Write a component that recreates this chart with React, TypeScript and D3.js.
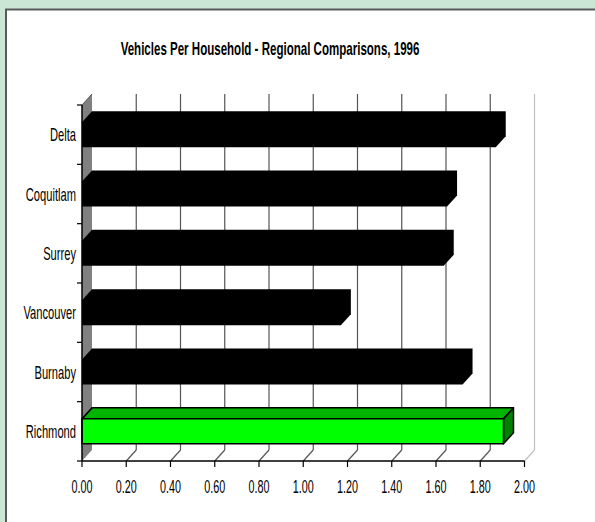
import React from "react";
import * as d3 from "d3";

const categories = ["Delta", "Coquitlam", "Surrey", "Vancouver", "Burnaby", "Richmond"];
const values = [1.87, 1.65, 1.635, 1.17, 1.72, 1.905];
const highlighted = ["Richmond"];
const xTicks = [0, 0.2, 0.4, 0.6, 0.8, 1.0, 1.2, 1.4, 1.6, 1.8, 2.0];
const title = "Vehicles Per Household - Regional Comparisons, 1996";

const W = 595;
const H = 522;
const DX = 10;
const DY = -11;
const FONT = "'Liberation Sans', Arial, sans-serif";

export default function App() {
  const x = d3.scaleLinear().domain([0, 2]).range([82, 524.5]);
  const y = d3
    .scaleBand<string>()
    .domain(categories)
    .range([105, 461])
    .paddingInner(0.58)
    .paddingOuter(0.29);
  const step = y.step();
  const top = 105;
  const bottom = 461;
  const x0 = x(0);
  const xMax = x(2);

  const bars = categories.map((c, i) => {
    const v = values[i];
    const xf = x(v);
    const yt = y(c)!;
    const yb = yt + y.bandwidth();
    return { c, v, xf, yt, yb, hi: highlighted.includes(c) };
  });

  return (
    <div style={{ position: "absolute", left: 0, top: 0 }}>
      <svg width={W} height={H} style={{ display: "block" }}>
        <rect x={0} y={0} width={W} height={H} fill="#cce6d5" />
        <rect x={6} y={9.5} width={W + 20} height={H + 20} fill="#ffffff" stroke="#5a5a5a" strokeWidth={2} />

        <g transform={`translate(270,55) scale(0.66,1.05)`}>
          <text textAnchor="middle" fontFamily={FONT} fontWeight="bold" fontSize={17.5} fill="#000">
            {title}
          </text>
        </g>

        {/* left wall */}
        <polygon
          points={`${x0},${top} ${x0 + DX},${top + DY} ${x0 + DX},${bottom + DY} ${x0},${bottom}`}
          fill="#808080"
        />

        {/* gridlines on back wall and floor */}
        {xTicks.slice(1).map((t, i) => {
          const last = t === 2;
          const col = last ? "#c0c0c0" : "#555555";
          const xb = x(t) + DX;
          return (
            <g key={i}>
              <line x1={xb} x2={xb} y1={top + DY} y2={bottom + DY} stroke={col} strokeWidth={1.2} />
              <line x1={xb} x2={x(t)} y1={bottom + DY} y2={bottom} stroke={col} strokeWidth={1.2} />
            </g>
          );
        })}

        {/* bars */}
        {bars.map((b) =>
          b.hi ? (
            <g key={b.c} stroke="#000" strokeWidth={1.5} strokeLinejoin="round">
              <polygon
                points={`${x0},${b.yt} ${x0 + DX},${b.yt + DY} ${b.xf + DX},${b.yt + DY} ${b.xf},${b.yt}`}
                fill="#00b400"
              />
              <polygon
                points={`${b.xf},${b.yt} ${b.xf + DX},${b.yt + DY} ${b.xf + DX},${b.yb + DY} ${b.xf},${b.yb}`}
                fill="#008200"
              />
              <rect x={x0} y={b.yt} width={b.xf - x0} height={b.yb - b.yt} fill="#00ff00" />
            </g>
          ) : (
            <polygon
              key={b.c}
              points={`${x0},${b.yt} ${x0 + DX},${b.yt + DY} ${b.xf + DX},${b.yt + DY} ${b.xf + DX},${b.yb + DY} ${b.xf},${b.yb} ${x0},${b.yb}`}
              fill="#000"
            />
          )
        )}

        {/* left axis */}
        <line x1={x0} x2={x0} y1={top} y2={bottom} stroke="#000" strokeWidth={1.5} />
        <line x1={x0} x2={x0 + DX} y1={top} y2={top + DY} stroke="#555" strokeWidth={1} />
        {d3.range(categories.length + 1).map((i) => (
          <line key={i} x1={x0 - 5} x2={x0} y1={top + i * step} y2={top + i * step} stroke="#000" strokeWidth={1.2} />
        ))}
        {categories.map((c) => (
          <g key={c} transform={`translate(76,${y(c)! + y.bandwidth() / 2 + 6.5}) scale(0.62,1)`}>
            <text textAnchor="end" fontFamily={FONT} fontSize={18} fill="#000">
              {c}
            </text>
          </g>
        ))}

        {/* bottom axis */}
        <line x1={x0} x2={xMax} y1={bottom} y2={bottom} stroke="#000" strokeWidth={1.5} />
        {xTicks.map((t, i) => (
          <g key={i}>
            <line x1={x(t)} x2={x(t)} y1={bottom} y2={bottom + 6} stroke="#000" strokeWidth={1.2} />
            <g transform={`translate(${x(t)},493) scale(0.6,1)`}>
              <text textAnchor="middle" fontFamily={FONT} fontSize={18} fill="#000">
                {d3.format(".2f")(t)}
              </text>
            </g>
          </g>
        ))}
      </svg>
    </div>
  );
}
